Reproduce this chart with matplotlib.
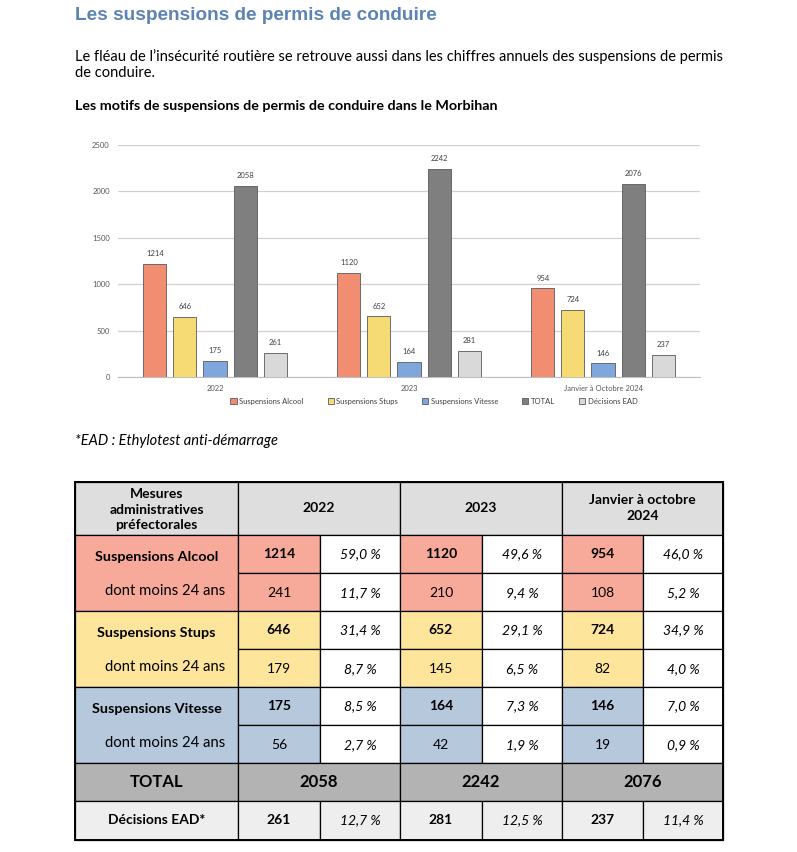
import matplotlib.pyplot as plt
from matplotlib.patches import Rectangle
import numpy as np

# --- data ---
years = ['2022', '2023', 'Janvier à Octobre 2024']
alcool = [1214, 1120, 954]
stups = [646, 652, 724]
vitesse = [175, 164, 146]
total = [2058, 2242, 2076]
ead = [261, 281, 237]
series_names = ['Suspensions Alcool', 'Suspensions Stups', 'Suspensions Vitesse', 'TOTAL', 'Décisions EAD']

alcool_pct = [59.0, 49.6, 46.0]
alcool_24 = [241, 210, 108]
alcool_24_pct = [11.7, 9.4, 5.2]
stups_pct = [31.4, 29.1, 34.9]
stups_24 = [179, 145, 82]
stups_24_pct = [8.7, 6.5, 4.0]
vitesse_pct = [8.5, 7.3, 7.0]
vitesse_24 = [56, 42, 19]
vitesse_24_pct = [2.7, 1.9, 0.9]
ead_pct = [12.7, 12.5, 11.4]
table_years = ['2022', '2023', 'Janvier à octobre\n2024']

bar_colors = ['#f18e72', '#f6da74', '#7fa7dd', '#7f7f7f', '#d9d9d9']
fill_alcool = '#f7aa9a'
fill_stups = '#fde59b'
fill_vitesse = '#b5c8dc'
fill_total = '#b3b3b3'
fill_ead = '#eeeeee'
fill_head = '#dedede'

W, H = 797, 852
fig = plt.figure(figsize=(W / 100, H / 100), dpi=100)
page = fig.add_axes([0, 0, 1, 1])
page.set_xlim(0, W)
page.set_ylim(H, 0)
page.axis('off')

body = 'Lato'
page.text(75, 16, 'Les suspensions de permis de conduire', fontsize=13.7, fontweight='bold',
          family='Liberation Sans', color='#5b84b4', va='center')
page.text(75, 57, "Le fléau de l\u2019insécurité routière se retrouve aussi dans les chiffres annuels des suspensions de permis",
          fontsize=10.5, family=body, va='center')
page.text(75, 73, 'de conduire.', fontsize=10.5, family=body, va='center')
page.text(75, 106, 'Les motifs de suspensions de permis de conduire dans le Morbihan', fontsize=10.3,
          family=body, fontweight='bold', va='center')
page.text(75, 441, '*EAD : Ethylotest anti-démarrage', fontsize=10.5, family=body, style='italic', va='center')

# --- bar chart ---
ax = fig.add_axes([118 / W, 1 - 377 / H, 582 / W, 232 / H])
series = [alcool, stups, vitesse, total, ead]
x = np.arange(len(years))
bw = 0.119
step = 0.155
for i, (vals, c, name) in enumerate(zip(series, bar_colors, series_names)):
    pos = x + (i - 2) * step
    bars = ax.bar(pos, vals, bw, color=c, edgecolor='#5a5a5a', linewidth=0.6, label=name, zorder=3)
    ax.bar_label(bars, padding=5, fontsize=5.5, color='#404040', family=body)
ax.set_xlim(-0.5, 2.5)
ax.set_ylim(0, 2500)
ax.set_yticks(np.arange(0, 2501, 500))
ax.set_xticks(x)
ax.set_xticklabels(years)
ax.tick_params(length=0, labelsize=5.5, labelcolor='#595959', pad=6)
for lab in ax.get_xticklabels() + ax.get_yticklabels():
    lab.set_family(body)
ax.grid(axis='y', color='#d0d0d0', linewidth=0.9, zorder=0)
for s in ['top', 'right', 'left']:
    ax.spines[s].set_visible(False)
ax.spines['bottom'].set_color('#bfbfbf')
ax.legend(loc='center', bbox_to_anchor=(434 / W, 1 - 401 / H), bbox_transform=fig.transFigure,
          ncol=5, frameon=False, prop={'family': body, 'size': 5.5}, handlelength=0.8,
          handleheight=0.8, handletextpad=0.3, columnspacing=3.2, labelcolor='#404040')

# --- table ---
cx = [75, 238, 320, 400, 482, 562, 643, 723]
ry = [482, 535, 573, 611, 649, 687, 725, 763, 801, 840]
fs = 10


def cell(x0, x1, y0, y1, fc):
    page.add_patch(Rectangle((x0, y0), x1 - x0, y1 - y0, facecolor=fc, edgecolor='black', linewidth=0.9))


def fmt(p):
    return f'{p:.1f}'.replace('.', ',') + ' %'


# header
cell(cx[0], cx[1], ry[0], ry[1], fill_head)
page.text((cx[0] + cx[1]) / 2, (ry[0] + ry[1]) / 2 + 1, 'Mesures\nadministratives\npréfectorales',
          ha='center', va='center', fontsize=fs, fontweight='bold', family=body, linespacing=1.35)
for j, yl in enumerate(table_years):
    a, b = cx[1 + 2 * j], cx[3 + 2 * j]
    cell(a, b, ry[0], ry[1], fill_head)
    page.text((a + b) / 2, (ry[0] + ry[1]) / 2, yl, ha='center', va='center', fontsize=fs,
              fontweight='bold', family=body, linespacing=1.4)

groups = [
    ('Suspensions Alcool', fill_alcool, alcool, alcool_pct, alcool_24, alcool_24_pct),
    ('Suspensions Stups', fill_stups, stups, stups_pct, stups_24, stups_24_pct),
    ('Suspensions Vitesse', fill_vitesse, vitesse, vitesse_pct, vitesse_24, vitesse_24_pct),
]
for g, (name, fc, v, vp, v24, v24p) in enumerate(groups):
    y0, y1, y2 = ry[1 + 2 * g], ry[2 + 2 * g], ry[3 + 2 * g]
    cell(cx[0], cx[1], y0, y2, fc)
    page.text((cx[0] + cx[1]) / 2, (y0 + y1) / 2 + 3, name, ha='center', va='center',
              fontsize=10.4, fontweight='bold', family=body)
    page.text(225, (y1 + y2) / 2 - 1, 'dont moins 24 ans', ha='right', va='center',
              fontsize=10.7, family=body)
    for j in range(3):
        a, m, b = cx[1 + 2 * j], cx[2 + 2 * j], cx[3 + 2 * j]
        cell(a, m, y0, y1, fc)
        cell(m, b, y0, y1, 'white')
        cell(a, m, y1, y2, fc)
        cell(m, b, y1, y2, 'white')
        page.text((a + m) / 2, (y0 + y1) / 2, str(v[j]), ha='center', va='center',
                  fontsize=fs, fontweight='bold', family=body)
        page.text((m + b) / 2, (y0 + y1) / 2, fmt(vp[j]), ha='center', va='center',
                  fontsize=fs, style='italic', family=body)
        page.text((a + m) / 2, (y1 + y2) / 2 + 1, str(v24[j]), ha='center', va='center',
                  fontsize=fs, family=body)
        page.text((m + b) / 2, (y1 + y2) / 2 + 1, fmt(v24p[j]), ha='center', va='center',
                  fontsize=fs, style='italic', family=body)

# total row
yt0, yt1 = ry[7], ry[8]
cell(cx[0], cx[1], yt0, yt1, fill_total)
page.text((cx[0] + cx[1]) / 2, (yt0 + yt1) / 2, 'TOTAL', ha='center', va='center',
          fontsize=12, fontweight='bold', family=body)
for j in range(3):
    a, b = cx[1 + 2 * j], cx[3 + 2 * j]
    cell(a, b, yt0, yt1, fill_total)
    page.text((a + b) / 2, (yt0 + yt1) / 2, str(total[j]), ha='center', va='center',
              fontsize=12, fontweight='bold', family=body)

# EAD row
ye0, ye1 = ry[8], ry[9]
cell(cx[0], cx[1], ye0, ye1, fill_ead)
page.text((cx[0] + cx[1]) / 2, (ye0 + ye1) / 2, 'Décisions EAD*', ha='center', va='center',
          fontsize=fs, fontweight='bold', family=body)
for j in range(3):
    a, m, b = cx[1 + 2 * j], cx[2 + 2 * j], cx[3 + 2 * j]
    cell(a, m, ye0, ye1, fill_ead)
    cell(m, b, ye0, ye1, fill_ead)
    page.text((a + m) / 2, (ye0 + ye1) / 2, str(ead[j]), ha='center', va='center',
              fontsize=fs, fontweight='bold', family=body)
    page.text((m + b) / 2, (ye0 + ye1) / 2, fmt(ead_pct[j]), ha='center', va='center',
              fontsize=fs, style='italic', family=body)

# outer frame
page.add_patch(Rectangle((cx[0], ry[0]), cx[-1] - cx[0], ry[-1] - ry[0], fill=False,
                         edgecolor='black', linewidth=1.4))

fig.savefig('out.png', dpi=100)
